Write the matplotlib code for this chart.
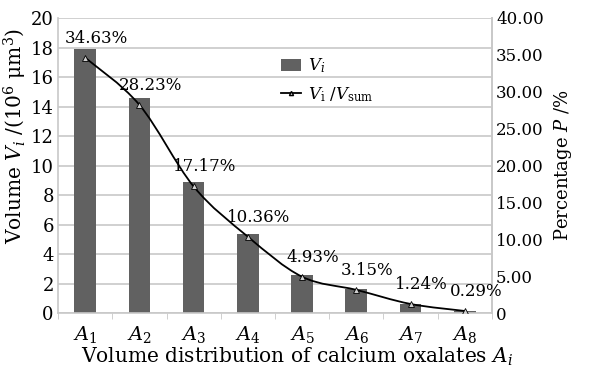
import matplotlib.pyplot as plt
import numpy as np
from matplotlib.path import Path
from matplotlib.patches import PathPatch
from matplotlib.lines import Line2D
from matplotlib.patches import Patch

categories = ["$A_{%d}$" % i for i in range(1, 9)]
volumes = [17.9, 14.6, 8.88, 5.36, 2.55, 1.63, 0.64, 0.15]
percent = [34.63, 28.23, 17.17, 10.36, 4.93, 3.15, 1.24, 0.29]
pct_labels = ["34.63%", "28.23%", "17.17%", "10.36%", "4.93%", "3.15%", "1.24%", "0.29%"]
right_ticks = [0, 5, 10, 15, 20, 25, 30, 35, 40]

plt.rcParams['font.family'] = ['DejaVu Serif']
plt.rcParams['mathtext.fontset'] = 'dejavuserif'

bar_color = "#616161"
grid_color = "#c8c8c8"

fig = plt.figure(figsize=(5.92, 3.75), dpi=100)
ax = fig.add_axes([0.098, 0.165, 0.733, 0.787])
x = np.arange(len(categories))
ax.bar(x, volumes, width=0.4, color=bar_color, zorder=2)
ax.set_xlim(-0.5, len(categories) - 0.5)
ax.set_ylim(0, 20)
ax.set_yticks(range(0, 21, 2))
ax.yaxis.grid(True, color=grid_color, linewidth=1.2, zorder=0)
ax.set_axisbelow(True)
ax.set_xticks(x)
ax.set_xticklabels(categories, fontsize=14)
ax.set_xticks(np.arange(-0.5, len(categories)), minor=True)
ax.tick_params(axis='x', which='major', length=0, pad=8)
ax.tick_params(axis='x', which='minor', length=4, color=grid_color)
ax.tick_params(axis='y', length=0, labelsize=13, pad=3)
ax.spines['top'].set_visible(False)
for s in ['left', 'bottom', 'right']:
    ax.spines[s].set_color(grid_color)
    ax.spines[s].set_linewidth(1.2)
ax.set_ylabel(r"Volume $V_i$ /(10$^6$ μm$^3$)", fontsize=14.5)
ax.yaxis.set_label_coords(-0.068, 0.6)
ax.set_xlabel(r"Volume distribution of calcium oxalates $A_i$", fontsize=14.5)
ax.xaxis.set_label_coords(0.55, -0.11)

ax2 = ax.twinx()
ax2.set_ylim(0, 40)
ax2.set_yticks(right_ticks)
ax2.set_yticklabels(["0"] + ["%.2f" % t for t in right_ticks[1:]])
ax2.tick_params(axis='y', length=0, labelsize=12, pad=3)
for s in ['top', 'left', 'bottom']:
    ax2.spines[s].set_visible(False)
ax2.spines['right'].set_color(grid_color)
ax2.spines['right'].set_linewidth(1.2)
ax2.set_ylabel(r"Percentage $P$ /%", fontsize=13, labelpad=6)

# smooth line through the points (Catmull-Rom as cubic Bezier)
px = np.array(x, dtype=float)
py = np.array(percent, dtype=float)
verts = [(px[0], py[0])]
codes = [Path.MOVETO]
n = len(px)
for i in range(n - 1):
    p0 = (px[max(i - 1, 0)], py[max(i - 1, 0)])
    p1 = (px[i], py[i])
    p2 = (px[i + 1], py[i + 1])
    p3 = (px[min(i + 2, n - 1)], py[min(i + 2, n - 1)])
    c1 = (p1[0] + (p2[0] - p0[0]) / 6, p1[1] + (p2[1] - p0[1]) / 6)
    c2 = (p2[0] - (p3[0] - p1[0]) / 6, p2[1] - (p3[1] - p1[1]) / 6)
    verts += [c1, c2, p2]
    codes += [Path.CURVE4] * 3
ax2.add_patch(PathPatch(Path(verts, codes), facecolor='none', edgecolor='black', linewidth=1.3, zorder=3))
ax2.plot(px, py, linestyle='none', marker='^', markersize=4, markerfacecolor='#d0d0d0',
         markeredgecolor='black', markeredgewidth=0.6, zorder=4)
for xi, yi, lab in zip(px, py, pct_labels):
    ax2.annotate(lab, (xi, yi), xytext=(8, 8), textcoords='offset points',
                 ha='center', va='bottom', fontsize=12)

handles = [Patch(facecolor=bar_color, edgecolor='none'),
           Line2D([0], [0], color='black', linewidth=1.3, marker='^', markersize=3,
                  markerfacecolor='#d0d0d0', markeredgecolor='black')]
ax2.legend(handles, [r"$V_i$", r"$V_\mathrm{i}$ /$V_\mathrm{sum}$"], loc='upper left',
           bbox_to_anchor=(0.48, 0.92), frameon=False, fontsize=12,
           handlelength=1.2, handletextpad=0.4, labelspacing=0.6)

fig.savefig("out.png", dpi=100)
